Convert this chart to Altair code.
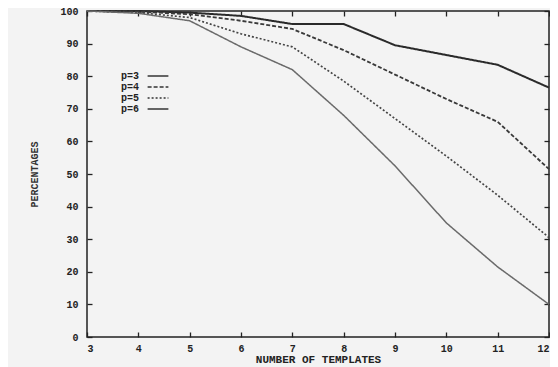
import altair as alt
import pandas as pd

templates = [3, 4, 5, 6, 7, 8, 9, 10, 11, 12]
p3 = [100, 100, 99.5, 98.5, 96, 96, 89.5, 86.5, 83.5, 76.5]
p4 = [100, 99.8, 99, 97, 94.5, 88, 80.5, 73, 66, 51.5]
p5 = [100, 99.5, 98, 93, 89, 78.5, 67, 55.5, 43.5, 30.5]
p6 = [100, 99.3, 97, 89, 82, 68, 52.5, 35, 21.5, 10]
series_names = ["p=3", "p=4", "p=5", "p=6"]
x_ticks = [3, 4, 5, 6, 7, 8, 9, 10, 11, 12]
y_ticks = [0, 10, 20, 30, 40, 50, 60, 70, 80, 90, 100]

rows = []
for name, vals in zip(series_names, [p3, p4, p5, p6]):
    for t, v in zip(templates, vals):
        rows.append({"templates": t, "pct": v, "series": name,
                     "dash": name, "weight": name})
df = pd.DataFrame(rows)

FONT = "Liberation Mono"
BG = "#f3f3f3"

base = alt.Chart(df)

lines = base.mark_line().encode(
    x=alt.X("templates:Q",
            scale=alt.Scale(domain=[3, 12], nice=False, zero=False),
            axis=alt.Axis(orient="bottom", values=x_ticks, format="d",
                          title="NUMBER OF TEMPLATES", domain=False,
                          offset=-5, tickSize=5, tickWidth=1.3, tickColor="#222",
                          labelPadding=6, labelFont=FONT, labelFontSize=10,
                          labelFontWeight="bold", labelColor="#222",
                          labelFlush=True,
                          titleFont=FONT, titleFontSize=11, titleFontWeight="bold",
                          titleColor="#222", titlePadding=0, grid=False)),
    y=alt.Y("pct:Q",
            scale=alt.Scale(domain=[0, 100], nice=False),
            axis=alt.Axis(orient="left", values=y_ticks, format="d",
                          title="PERCENTAGES", domain=False,
                          offset=-5, tickSize=5, tickWidth=1.3, tickColor="#222",
                          labelPadding=9, labelFont=FONT, labelFontSize=10,
                          labelFontWeight="bold", labelColor="#222",
                          titleFont=FONT, titleFontSize=10, titleFontWeight="bold",
                          titleColor="#333", titlePadding=20, grid=False)),
    color=alt.Color("series:N",
                    scale=alt.Scale(domain=series_names,
                                    range=["#2a2a2a", "#3a3a3a", "#444444", "#6a6a6a"]),
                    legend=alt.Legend(orient="none", legendX=24, legendY=60,
                                      title=None, symbolOpacity=0, symbolSize=1,
                                      labelFont=FONT, labelFontSize=10,
                                      labelFontWeight="bold", labelColor="#222",
                                      labelOffset=0, rowPadding=1, padding=0)),
    strokeDash=alt.StrokeDash("dash:N",
                              scale=alt.Scale(range=[[1, 0], [4, 2], [2, 2], [1, 0]]),
                              legend=alt.Legend(orient="none", legendX=66, legendY=60,
                                                title=None, symbolType="M-4,0H4",
                                                symbolSize=27, symbolStrokeColor="#333",
                                                symbolStrokeWidth=1.3,
                                                labelExpr="''", labelFont=FONT,
                                                labelFontSize=10, rowPadding=1,
                                                padding=0)),
    strokeWidth=alt.StrokeWidth("weight:N",
                                scale=alt.Scale(range=[2, 1.5, 1.3, 1.1]),
                                legend=None),
)

mirror = base.mark_line(opacity=0).encode(
    x=alt.X("templates:Q",
            scale=alt.Scale(domain=[3, 12], nice=False, zero=False),
            axis=alt.Axis(orient="top", values=x_ticks, labels=False, title=None,
                          domain=False, offset=-5, tickSize=5, tickWidth=1.3,
                          tickColor="#222", grid=False)),
    y=alt.Y("pct:Q",
            scale=alt.Scale(domain=[0, 100], nice=False),
            axis=alt.Axis(orient="right", values=y_ticks, labels=False, title=None,
                          domain=False, offset=-5, tickSize=5, tickWidth=1.3,
                          tickColor="#222", grid=False)),
)

chart = alt.layer(lines, mirror).resolve_axis(
    x="independent", y="independent"
).properties(
    width=462,
    height=326,
    background=BG,
    padding={"left": 79, "top": 3, "right": 1, "bottom": 30},
    autosize=alt.AutoSizeParams(type="none"),
).configure_view(
    stroke="#222", strokeWidth=1.5, fill=BG
)

chart.save("out.html", embed_options={"renderer": "svg", "actions": False})
